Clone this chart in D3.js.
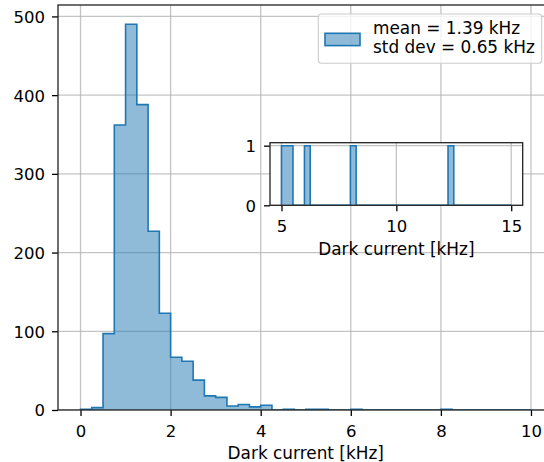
<!DOCTYPE html>
<html>
<head>
<meta charset="utf-8">
<script src="https://cdn.jsdelivr.net/npm/d3@7"></script>
<style>
  body { margin: 0; background: #fff; }
  text { font-family: "DejaVu Sans", sans-serif; fill: #000; }
</style>
</head>
<body>
<div id="chart"></div>
<script>
// histogram counts, 0.25 kHz bins starting at 0 kHz
const mainStart = 0, binWidth = 0.25;
const mainCounts = [1, 3, 97, 362, 490, 388, 227, 123, 67, 62,
                    38, 18, 16, 5, 7, 4, 6, 0, 1, 0,
                    1, 1, 0, 0, 1, 0, 0, 0, 0, 0,
                    0, 0, 1, 0, 0, 0, 0, 0, 0, 0];
// inset: tail from 5 to 15 kHz, same bin width
const insetStart = 5;
const insetCounts = [1, 1, 0, 0, 1, 0, 0, 0, 0, 0,
                     0, 0, 1, 0, 0, 0, 0, 0, 0, 0,
                     0, 0, 0, 0, 0, 0, 0, 0, 0, 1,
                     0, 0, 0, 0, 0, 0, 0, 0, 0, 0];
const mainXTicks = [0, 2, 4, 6, 8, 10];
const mainYTicks = [0, 100, 200, 300, 400, 500];
const insetXTicks = [5, 10, 15];
const insetYTicks = [0, 1];
const legendLines = ["mean = 1.39 kHz", "std dev = 0.65 kHz"];
const xLabel = "Dark current [kHz]";

const W = 544, H = 462;
const blue = "#1f77b4";
const fs = 16.5;

const svg = d3.select("#chart").append("svg")
    .attr("width", W).attr("height", H);

function stepPath(x, y, start, counts) {
  const pts = [[start, 0]];
  counts.forEach((c, i) => {
    const x0 = start + i * binWidth;
    pts.push([x0, c], [x0 + binWidth, c]);
  });
  pts.push([start + counts.length * binWidth, 0]);
  return d3.line().x(d => x(d[0])).y(d => y(d[1]))(pts);
}

function drawAxes(g, box, xDom, yDom, xTicks, yTicks, counts, start, labelY, tickLabelY, yLabelX) {
  const x = d3.scaleLinear().domain(xDom).range([box.l, box.r]);
  const y = d3.scaleLinear().domain(yDom).range([box.b, box.t]);

  const clipId = "clip" + Math.round(box.l);
  g.append("clipPath").attr("id", clipId).append("rect")
      .attr("x", box.l).attr("y", box.t)
      .attr("width", box.r - box.l).attr("height", box.b - box.t);

  g.append("rect").attr("x", box.l).attr("y", box.t)
      .attr("width", box.r - box.l).attr("height", box.b - box.t)
      .attr("fill", "#fff");

  // grid
  const grid = g.append("g").attr("clip-path", `url(#${clipId})`)
      .attr("stroke", "#b0b0b0").attr("stroke-opacity", 0.75).attr("stroke-width", 1.3);
  xTicks.forEach(t => grid.append("line")
      .attr("x1", x(t)).attr("x2", x(t)).attr("y1", box.t).attr("y2", box.b));
  yTicks.forEach(t => grid.append("line")
      .attr("x1", box.l).attr("x2", box.r).attr("y1", y(t)).attr("y2", y(t)));

  // histogram
  const p = stepPath(x, y, start, counts);
  const hist = g.append("g").attr("clip-path", `url(#${clipId})`);
  hist.append("path").attr("d", p)
      .attr("fill", blue).attr("fill-opacity", 0.5).attr("stroke", "none");
  hist.append("path").attr("d", p)
      .attr("fill", "none").attr("stroke", blue).attr("stroke-width", 1.6)
      .attr("stroke-linejoin", "miter");

  // axes with d3
  const xAxis = d3.axisBottom(x).tickValues(xTicks).tickSize(6).tickPadding(0).tickFormat(d3.format("d"));
  const yAxis = d3.axisLeft(y).tickValues(yTicks).tickSize(6).tickPadding(0).tickFormat(d3.format("d"));
  const gx = g.append("g").attr("transform", `translate(0,${box.b})`).call(xAxis);
  const gy = g.append("g").attr("transform", `translate(${box.l},0)`).call(yAxis);
  [gx, gy].forEach(a => {
    a.select(".domain").remove();
    a.selectAll("line").attr("stroke", "#000").attr("stroke-width", 1.3);
    a.selectAll("text").attr("font-size", fs).attr("font-family", "DejaVu Sans").attr("fill", "#000");
  });
  gx.selectAll("text").attr("dy", null).attr("y", tickLabelY - box.b);
  gy.selectAll("text").attr("dy", null).attr("x", yLabelX - box.l)
      .attr("y", fs * 0.36);

  // spines
  g.append("rect").attr("x", box.l).attr("y", box.t)
      .attr("width", box.r - box.l).attr("height", box.b - box.t)
      .attr("fill", "none").attr("stroke", "#222").attr("stroke-width", 1.3);

  g.append("text").attr("x", (box.l + box.r) / 2).attr("y", labelY)
      .attr("text-anchor", "middle").attr("font-size", 16.9).text(xLabel);
  return { x, y };
}

// main axes
const mainG = svg.append("g");
drawAxes(mainG, { l: 58, r: 553.5, t: 5, b: 410 },
  [-0.5, 10.5], [0, d3.max(mainCounts) * 1.05],
  mainXTicks, mainYTicks, mainCounts, mainStart, 459, 437, 45);

// legend
const leg = svg.append("g");
leg.append("rect").attr("x", 318.3).attr("y", 14).attr("width", 223.4).attr("height", 49.3)
    .attr("rx", 3).attr("fill", "#fff").attr("fill-opacity", 0.8)
    .attr("stroke", "#cccccc").attr("stroke-width", 1.1);
leg.append("rect").attr("x", 325).attr("y", 33.3).attr("width", 35).attr("height", 12.3)
    .attr("fill", blue).attr("fill-opacity", 0.5).attr("stroke", blue).attr("stroke-width", 1.6);
leg.selectAll("text.l").data(legendLines).enter().append("text")
    .attr("class", "l").attr("x", 373).attr("y", (d, i) => 34.3 + i * 19)
    .attr("font-size", 16.9).text(d => d);

// inset axes
const insetG = svg.append("g");
drawAxes(insetG, { l: 270, r: 522.7, t: 142.7, b: 205.3 },
  [4.5, 15.5], [0, d3.max(insetCounts) * 1.05],
  insetXTicks, insetYTicks, insetCounts, insetStart, 255, 231.7, 256);
</script>
</body>
</html>
